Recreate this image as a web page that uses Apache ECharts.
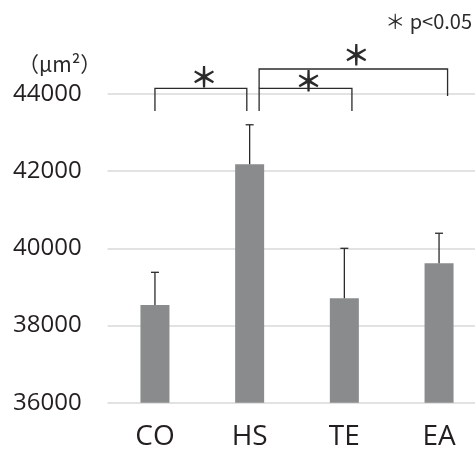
<!DOCTYPE html>
<html>
<head>
<meta charset="utf-8">
<script src="https://cdn.jsdelivr.net/npm/echarts@6/dist/echarts.min.js"></script>
<style>html,body{margin:0;padding:0;background:#fff}#c{width:475px;height:450px}</style>
</head>
<body>
<div id="c"></div>
<script>
// ---- data ----
var categories = ['CO', 'HS', 'TE', 'EA'];
var means = [38530, 42176, 38705, 39611];
var errorTops = [39378, 43200, 40000, 40390];
var yTicks = [36000, 38000, 40000, 42000, 44000];
// brackets: [startPos, endPos, topValue, leftLegBottom, rightLegBottom, starValue]
var brackets = [
  [0.0, 0.97, 44145, 43557, 43557, 44430],
  [1.1, 2.08, 44145, 43557, 43557, 44316],
  [1.1, 3.09, 44645, 44145, 43946, 45010]
];
var unitLabel = '（μm²）';
var sigNote = '＊ p<0.05';
var starText = '＊';

var chart = echarts.init(document.getElementById('c'), null, {renderer: 'canvas'});
var INK = '#2b2b2b';
chart.setOption({
  animation: false,
  backgroundColor: '#fff',
  grid: {left: 107.6, width: 378.8, top: 93.9, bottom: 47.3, containLabel: false, outerBoundsMode: 'none'},
  graphic: [
    {type: 'text', left: 18, top: 54, style: {text: unitLabel, font: '21px "Noto Sans CJK JP"', fill: INK}},
    {type: 'text', right: 3, top: 11, style: {text: sigNote, font: '20px "Noto Sans CJK JP"', fill: INK}}
  ],
  xAxis: {
    type: 'category', data: categories,
    axisLine: {show: false}, axisTick: {show: false},
    axisLabel: {fontFamily: 'Open Sans', fontSize: 28, color: '#231f20', margin: 20}
  },
  yAxis: {
    type: 'value', min: yTicks[0], max: yTicks[yTicks.length - 1], interval: yTicks[1] - yTicks[0],
    axisLine: {show: false}, axisTick: {show: false},
    axisLabel: {fontFamily: 'Open Sans', fontSize: 24, color: '#231f20', margin: 26,
      formatter: function (v) { return String(v); }},
    splitLine: {lineStyle: {color: '#d9d9d9', width: 1.5}}
  },
  series: [
    {
      type: 'bar', data: means, barWidth: 29,
      itemStyle: {color: '#8a8b8d'}, z: 2
    },
    {
      type: 'custom', z: 3,
      data: categories.map(function (c, i) { return [i, means[i], errorTops[i]]; }),
      renderItem: function (params, api) {
        var b = api.coord([api.value(0), api.value(1)]);
        var t = api.coord([api.value(0), api.value(2)]);
        var hw = 4;
        return {type: 'group', children: [
          {type: 'line', shape: {x1: b[0], y1: b[1], x2: t[0], y2: t[1]}, style: {stroke: INK, lineWidth: 1.3}},
          {type: 'line', shape: {x1: t[0] - hw, y1: t[1], x2: t[0] + hw, y2: t[1]}, style: {stroke: INK, lineWidth: 1.3}}
        ]};
      }
    },
    {
      type: 'custom', z: 4, clip: false,
      data: brackets,
      renderItem: function (params, api) {
        var x0 = api.coord([0, yTicks[0]])[0];
        var band = api.size([1, 0])[0];
        var xa = x0 + api.value(0) * band;
        var xb = x0 + api.value(1) * band;
        var yTop = api.coord([0, api.value(2)])[1];
        var yL = api.coord([0, api.value(3)])[1];
        var yR = api.coord([0, api.value(4)])[1];
        var yS = api.coord([0, api.value(5)])[1];
        return {type: 'group', children: [
          {type: 'polyline', shape: {points: [[xa, yL], [xa, yTop], [xb, yTop], [xb, yR]]},
           style: {stroke: INK, lineWidth: 1.3, fill: null}},
          {type: 'text', x: (xa + xb) / 2 + 3, y: yS,
           style: {text: starText, font: 'bold 28px "Noto Sans CJK JP"', fill: INK, align: 'center', verticalAlign: 'middle'}}
        ]};
      }
    }
  ]
});
</script>
</body>
</html>
